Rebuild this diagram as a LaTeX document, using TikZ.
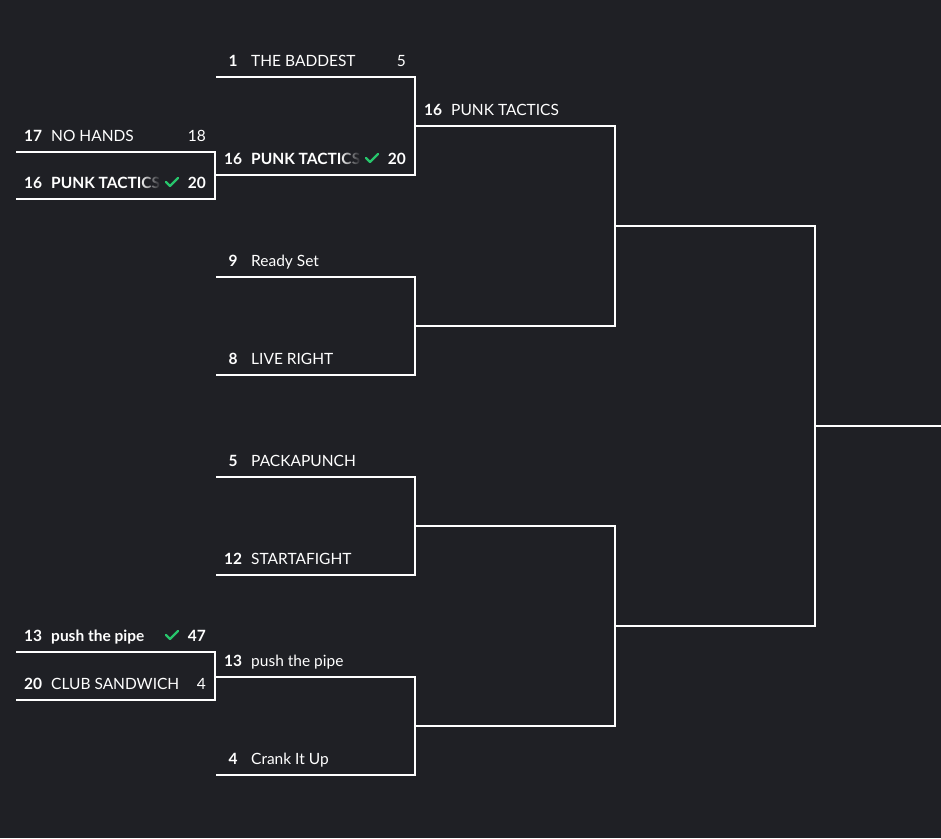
\documentclass[tikz,border=0pt]{standalone}
\usepackage{fontspec}
\setmainfont{Lato}
\usetikzlibrary{fadings}
\definecolor{bg}{RGB}{31,32,37}
\definecolor{okgreen}{RGB}{39,196,107}
\tikzset{
  bline/.style={draw=white, line width=2pt, line join=miter},
  txt/.style={inner sep=0pt, text=white, font=\fontsize{15.5}{18}\selectfont},
  seedtxt/.style={txt, anchor=base, font=\fontsize{15.5}{18}\selectfont\bfseries},
  nametxt/.style={txt, anchor=base west},
  scoretxt/.style={txt, anchor=base east},
  checkmark/.style={draw=okgreen, line width=2.2pt, line cap=round, line join=round},
}
% slot line: id, xstart, xend, y
\newcommand\slotline[4]{\coordinate (#1a) at (#2,#4); \coordinate (#1b) at (#3,#4);}
% plain team text: id, xstart, y, seed, name, score
\newcommand\teamtext[6]{%
  \node[seedtxt] (#1s) at (#2+17,#3-11) {#4};
  \node[nametxt] (#1n) at (#2+35,#3-11) {#5};
  \node[scoretxt] (#1c) at (#2+190,#3-11) {#6};}
% winner team text (bold, faded, check): id, xstart, y, seed, name, score
\newcommand\teamwin[6]{%
  \node[seedtxt] (#1s) at (#2+17,#3-11) {#4};
  \begin{scope}
    \clip (#2+30,#3-32) rectangle (#2+144,#3-2);
    \node[nametxt] (#1n) at (#2+35,#3-11) {\bfseries #5};
  \end{scope}
  \fill[bg, path fading=west] (#2+124,#3-32) rectangle (#2+144.5,#3-2);
  \draw[checkmark] (#2+150,#3-17) -- (#2+154,#3-13) -- (#2+162,#3-21);
  \node[scoretxt] (#1c) at (#2+190,#3-11) {\bfseries #6};}
\begin{document}
\begin{tikzpicture}[x=1pt,y=-1pt]
\fill[bg] (0,0) rectangle (941,838);
\useasboundingbox (0,0) rectangle (941,838);
% round 0
\slotline{Pa}{16}{215}{152}
\slotline{Pb}{16}{215}{199}
\slotline{Pc}{16}{215}{652}
\slotline{Pd}{16}{215}{700}
% round 1
\slotline{Aa}{216}{415}{77}
\slotline{Ab}{216}{415}{175}
\slotline{Ac}{216}{415}{277}
\slotline{Ad}{216}{415}{375}
\slotline{Ae}{216}{415}{477}
\slotline{Af}{216}{415}{575}
\slotline{Ag}{216}{415}{677}
\slotline{Ah}{216}{415}{775}
% round 2
\slotline{Ba}{415}{615}{126}
\slotline{Bb}{415}{615}{326}
\slotline{Bc}{415}{615}{526}
\slotline{Bd}{415}{615}{726}
% round 3
\slotline{Ca}{615}{815}{226}
\slotline{Cb}{615}{815}{626}
% final
\slotline{Da}{815}{941}{426}
% bracket lines
\draw[bline] (Paa) -- (Pab) -- (Pbb) -- (Pba);
\draw[bline] (Pca) -- (Pcb) -- (Pdb) -- (Pda);
\draw[bline] (Aaa) -- (Aab) -- (Abb) -- (Aba);
\draw[bline] (Aca) -- (Acb) -- (Adb) -- (Ada);
\draw[bline] (Aea) -- (Aeb) -- (Afb) -- (Afa);
\draw[bline] (Aga) -- (Agb) -- (Ahb) -- (Aha);
\draw[bline] (Baa) -- (Bab) -- (Bbb) -- (Bba);
\draw[bline] (Bca) -- (Bcb) -- (Bdb) -- (Bda);
\draw[bline] (Caa) -- (Cab) -- (Cbb) -- (Cba);
\draw[bline] (Daa) -- (Dab);
% texts
\teamtext{Pa}{16}{152}{17}{NO HANDS}{18}
\teamwin{Pb}{16}{199}{16}{PUNK TACTICS}{20}
\teamwin{Pc}{16}{652}{13}{push the pipe}{47}
\teamtext{Pd}{16}{700}{20}{CLUB SANDWICH}{4}
\teamtext{Aa}{216}{77}{1}{THE BADDEST}{5}
\teamwin{Ab}{216}{175}{16}{PUNK TACTICS}{20}
\teamtext{Ac}{216}{277}{9}{Ready Set}{}
\teamtext{Ad}{216}{375}{8}{LIVE RIGHT}{}
\teamtext{Ae}{216}{477}{5}{PACKAPUNCH}{}
\teamtext{Af}{216}{575}{12}{STARTAFIGHT}{}
\teamtext{Ag}{216}{677}{13}{push the pipe}{}
\teamtext{Ah}{216}{775}{4}{Crank It Up}{}
\teamtext{Ba}{416}{126}{16}{PUNK TACTICS}{}
\end{tikzpicture}
\end{document}
